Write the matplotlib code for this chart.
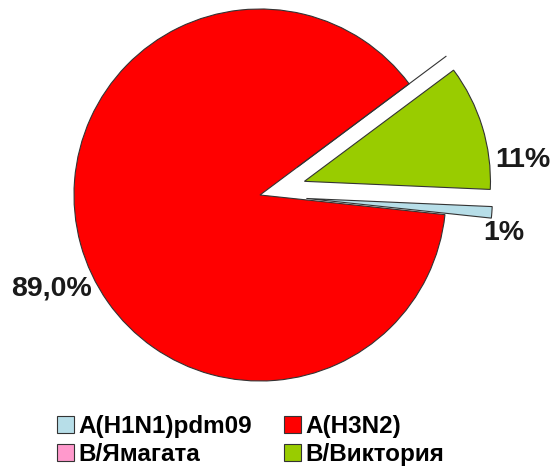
import matplotlib.pyplot as plt

# Share of influenza virus subtypes (percent)
subtypes = ["A(H1N1)pdm09", "A(H3N2)", "В/Ямагата", "В/Виктория"]
shares = [1, 89, 0, 11]
share_labels = ["1%", "89,0%", "", "11%"]
colors = ["#B7DEE8", "#FF0000", "#FF99CC", "#99CC00"]
explode = [0.25, 0, 0.25, 0.25]

plt.rcParams["font.family"] = ["Liberation Sans", "DejaVu Sans"]

W, H = 555, 472
fig = plt.figure(figsize=(W / 100, H / 100), dpi=100)
ax = fig.add_axes([0, 0, 1, 1])

wedges, _ = ax.pie(
    shares,
    colors=colors,
    explode=explode,
    startangle=-2.5,
    counterclock=False,
    radius=1,
    wedgeprops=dict(edgecolor="#333333", linewidth=0.8),
)

# one data unit = 186 px, pie centre at (260, 195) px from top-left
cx, cy, r = 260, 195, 186
ax.set_xlim(-cx / r, (W - cx) / r)
ax.set_ylim(-(H - cy) / r, cy / r)
ax.set_aspect("auto")
ax.axis("off")

# value labels
label_pos = {0: (504, 233), 1: (52, 288), 3: (523, 160)}
for i, (px, py) in label_pos.items():
    fig.text(px / W, 1 - py / H, share_labels[i], fontsize=20.5, fontweight="bold",
             ha="center", va="center", color="#1a1a1a")

# legend, laid out row by row
order = [0, 2, 1, 3]
fig.legend(
    [wedges[i] for i in order],
    [subtypes[i] for i in order],
    ncol=2,
    loc="upper left",
    bbox_to_anchor=(52 / W, 1 - 410 / H),
    frameon=False,
    prop=dict(weight="bold", size=17.5),
    handlelength=0.7,
    handleheight=0.7,
    handletextpad=0.2,
    columnspacing=1.3,
    labelspacing=0.2,
    borderpad=0.2,
    borderaxespad=0,
)

fig.savefig("out.png", dpi=100)
